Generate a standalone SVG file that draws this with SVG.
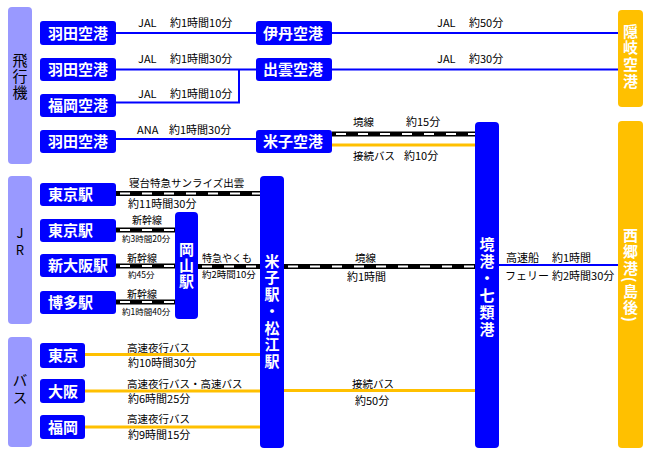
<svg xmlns="http://www.w3.org/2000/svg" width="651" height="456" viewBox="0 0 651 456">
<style>
.box{fill:#0000ff}
.side{fill:#9999ff}
.gold{fill:#ffc000}
.bt{font-family:"Noto Sans CJK JP","Noto Sans CJK SC",sans-serif;font-weight:bold;font-size:15px;fill:#fff}
.vt{font-family:"Noto Sans CJK JP","Noto Sans CJK SC",sans-serif;font-weight:bold;font-size:15px;fill:#fff;text-anchor:middle;writing-mode:vertical-rl}
.st{font-family:"Noto Sans CJK JP","Noto Sans CJK SC",sans-serif;font-size:15px;fill:#000;text-anchor:middle;writing-mode:vertical-rl}
.lbl{font-family:"Noto Sans CJK JP","Noto Sans CJK SC",sans-serif;font-size:11px;fill:#000}
.f105{font-size:10.5px}
.f10{font-size:10px}
.f95{font-size:9.5px}
.f85{font-size:8.5px}
.air{stroke:#0000ff;stroke-width:2;fill:none}
.bus{stroke:#ffc000;stroke-width:3;fill:none}
.railb{stroke:#000;stroke-width:5;fill:none}
.railw{stroke:#fff;stroke-width:2;fill:none;stroke-dasharray:10 12;stroke-dashoffset:-4}
</style>
<rect width="651" height="456" fill="#fff"/>
<g id="connectors">
  <path class="air" d="M116 33H256M332 33H618"/>
  <path class="air" d="M116 69.5H256M332 69.5H618"/>
  <path class="air" d="M116 102.5H239V69.5"/>
  <path class="air" d="M116 139H256"/>
  <path class="railb" d="M332 134H475"/><path class="railw" d="M332 134H475"/>
  <path class="bus" d="M332 145H475"/>
  <path class="railb" d="M116 193.5H260"/><path class="railw" d="M116 193.5H260"/>
  <path class="railb" d="M116 230H175"/><path class="railw" d="M116 230H175"/>
  <path class="railb" d="M116 266H175"/><path class="railw" d="M116 266H175"/>
  <path class="railb" d="M116 302H175"/><path class="railw" d="M116 302H175"/>
  <path class="railb" d="M198 266.5H260"/><path class="railw" d="M198 266.5H260"/>
  <path class="railb" d="M284 266.5H475"/><path class="railw" d="M284 266.5H475"/>
  <path class="air" d="M499 265H618"/>
  <path class="bus" d="M85 354.5H260"/>
  <path class="bus" d="M85 391H260"/>
  <path class="bus" d="M85 427H260"/>
  <path class="bus" d="M284 390.5H475"/>
</g>
<g id="labels">
  <text class="lbl" y="27"><tspan x="138">JAL</tspan><tspan x="170">約1時間10分</tspan></text>
  <text class="lbl" y="63"><tspan x="138">JAL</tspan><tspan x="170">約1時間30分</tspan></text>
  <text class="lbl" y="98"><tspan x="138">JAL</tspan><tspan x="170">約1時間10分</tspan></text>
  <text class="lbl" y="134"><tspan x="137">ANA</tspan><tspan x="169">約1時間30分</tspan></text>
  <text class="lbl" y="27"><tspan x="437">JAL</tspan><tspan x="469">約50分</tspan></text>
  <text class="lbl" y="63"><tspan x="437">JAL</tspan><tspan x="469">約30分</tspan></text>
  <text class="lbl" y="126"><tspan x="353" class="f105">境線</tspan><tspan x="406">約15分</tspan></text>
  <text class="lbl" y="160"><tspan x="353" class="f105">接続バス</tspan><tspan x="404">約10分</tspan></text>
  <text class="lbl f105" x="129" y="187">寝台特急サンライズ出雲</text>
  <text class="lbl" x="128" y="208">約11時間30分</text>
  <text class="lbl f10" x="132" y="224">新幹線</text>
  <text class="lbl f85" x="122" y="242">約3時間20分</text>
  <text class="lbl f10" x="127" y="262">新幹線</text>
  <text class="lbl f85" x="128" y="278">約45分</text>
  <text class="lbl f10" x="127" y="298">新幹線</text>
  <text class="lbl f85" x="122" y="315">約1時間40分</text>
  <text class="lbl f10" x="202" y="262">特急やくも</text>
  <text class="lbl f95" x="202" y="278">約2時間10分</text>
  <text class="lbl f105" x="355" y="262">境線</text>
  <text class="lbl" x="347" y="281">約1時間</text>
  <text class="lbl" y="262"><tspan x="506">高速船</tspan><tspan x="552">約1時間</tspan></text>
  <text class="lbl" y="280"><tspan x="505">フェリー</tspan><tspan x="552">約2時間30分</tspan></text>
  <text class="lbl f105" x="127" y="352">高速夜行バス</text>
  <text class="lbl" x="128" y="367">約10時間30分</text>
  <text class="lbl f105" x="127" y="388">高速夜行バス・高速バス</text>
  <text class="lbl" x="128" y="403">約6時間25分</text>
  <text class="lbl f105" x="127" y="423">高速夜行バス</text>
  <text class="lbl" x="128" y="439">約9時間15分</text>
  <text class="lbl f105" x="352" y="388">接続バス</text>
  <text class="lbl" x="355" y="405">約50分</text>
</g>
<g id="side-air">
  <rect class="side" x="8" y="7" width="24" height="157" rx="4"/>
  <text class="st" x="20" y="77" letter-spacing="1">飛行機</text>
</g>
<g id="side-jr">
  <rect class="side" x="8" y="176" width="24" height="148" rx="4"/>
  <text class="st" x="20" y="243.5" letter-spacing="4" style="font-size:13px;text-orientation:upright">JR</text>
</g>
<g id="side-bus">
  <rect class="side" x="8" y="337" width="24" height="110" rx="4"/>
  <text class="st" x="20" y="390" letter-spacing="2">バス</text>
</g>
<g id="haneda-1"><rect class="box" x="40" y="21" width="76" height="24" rx="3"/><text class="bt" x="48" y="38.5">羽田空港</text></g>
<g id="haneda-2"><rect class="box" x="40" y="58" width="76" height="23" rx="3"/><text class="bt" x="48" y="75">羽田空港</text></g>
<g id="fukuoka-airport"><rect class="box" x="40" y="94" width="76" height="23" rx="3"/><text class="bt" x="48" y="111">福岡空港</text></g>
<g id="haneda-3"><rect class="box" x="40" y="130" width="76" height="23" rx="3"/><text class="bt" x="48" y="147">羽田空港</text></g>
<g id="itami"><rect class="box" x="256" y="21" width="76" height="24" rx="3"/><text class="bt" x="263" y="38.5">伊丹空港</text></g>
<g id="izumo"><rect class="box" x="256" y="58" width="76" height="23" rx="3"/><text class="bt" x="263" y="75">出雲空港</text></g>
<g id="yonago-airport"><rect class="box" x="256" y="130" width="76" height="23" rx="3"/><text class="bt" x="263" y="147">米子空港</text></g>
<g id="tokyo-1"><rect class="box" x="40" y="183" width="76" height="23" rx="3"/><text class="bt" x="48" y="200">東京駅</text></g>
<g id="tokyo-2"><rect class="box" x="40" y="219" width="76" height="23" rx="3"/><text class="bt" x="48" y="236">東京駅</text></g>
<g id="shin-osaka"><rect class="box" x="40" y="254" width="76" height="23" rx="3"/><text class="bt" x="48" y="271">新大阪駅</text></g>
<g id="hakata"><rect class="box" x="40" y="291" width="76" height="23" rx="3"/><text class="bt" x="48" y="308">博多駅</text></g>
<g id="okayama"><rect class="box" x="175" y="212" width="23" height="107" rx="4"/>
  <text class="vt" x="186.5" y="266" letter-spacing="1">岡山駅</text></g>
<g id="yonago-matsue"><rect class="box" x="260" y="176" width="24" height="272" rx="4"/>
  <text class="vt" x="272" y="312" letter-spacing="1.7">米子駅・松江駅</text></g>
<g id="bus-tokyo"><rect class="box" x="40" y="343" width="45" height="25" rx="3"/><text class="bt" x="48" y="361">東京</text></g>
<g id="bus-osaka"><rect class="box" x="40" y="379" width="45" height="24" rx="3"/><text class="bt" x="48" y="396.5">大阪</text></g>
<g id="bus-fukuoka"><rect class="box" x="40" y="415" width="45" height="24" rx="3"/><text class="bt" x="48" y="432.5">福岡</text></g>
<g id="sakaiminato"><rect class="box" x="475" y="122" width="24" height="326" rx="4"/>
  <text class="vt" x="487" y="288" letter-spacing="2">境港・七類港</text></g>
<g id="oki-airport"><rect class="gold" x="618" y="10" width="25" height="97" rx="4"/>
  <text class="vt" x="630.5" y="57" letter-spacing="1.7">隠岐空港</text></g>
<g id="saigo"><rect class="gold" x="618" y="121" width="25" height="327" rx="4"/>
  <text class="vt" x="630.5" y="275.6" letter-spacing="1.3">西郷港(島後)</text></g>
</svg>
